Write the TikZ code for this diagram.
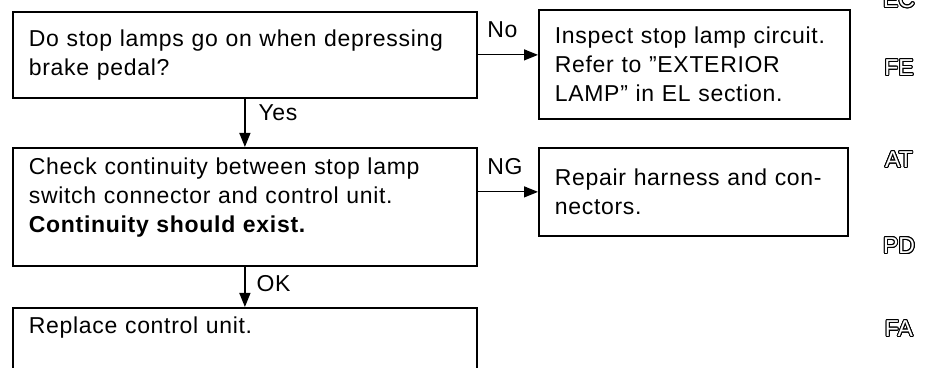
\documentclass[tikz,border=0pt]{standalone}
\usepackage{fontspec}
\setmainfont{Liberation Sans}
\newfontfamily\chartfont{Liberation Sans}[LetterSpace=3, Ligatures=TeX]
\usepackage[copies]{contour}
\usetikzlibrary{positioning, calc, arrows.meta}
\definecolor{Ink}{HTML}{000000}
\definecolor{Paper}{HTML}{FFFFFF}
\contourlength{0.5pt}
\newcommand{\tabmark}[1]{\contour{Ink}{\textcolor{Paper}{#1}}}
\tikzset{
    stepbox/.style={rectangle, draw=Ink, line width=0.9pt, anchor=north west, align=left, inner xsep=8pt, inner ysep=0pt, text=Ink, font=\chartfont\fontsize{11.5}{14.5}\selectfont},
    arrow/.style={-{Triangle[length=7pt, width=5.5pt]}, line width=0.6pt, color=Ink},
    answer/.style={anchor=base west, inner sep=0pt, text=Ink, font=\chartfont\fontsize{11.5}{14.5}\selectfont},
    tab/.style={inner sep=0pt, font=\fontsize{11.5}{12}\selectfont},
}

\begin{document}
\begin{tikzpicture}[x=0.5pt, y=-0.5pt]
    \useasboundingbox (0,0) rectangle (942,368);
    \clip (0,0) rectangle (942,368);

    % Steps
    \node[stepbox, text width=216pt, minimum height=43pt] (lamps) at (12,11)
        {Do stop lamps go on when depressing\\brake pedal?};
    \node[stepbox, text width=139.5pt, minimum height=54.5pt] (inspect) at (538,9)
        {Inspect stop lamp circuit.\\Refer to ''EXTERIOR\\LAMP'' in EL section.};
    \node[stepbox, text width=216pt, minimum height=59pt, text depth=41pt] (continuity) at (12,147)
        {Check continuity between stop lamp\\switch connector and control unit.\\\textbf{Continuity should exist.}};
    \node[stepbox, text width=138.5pt, minimum height=44pt] (repair) at (538,147)
        {Repair harness and con-\\nectors.};
    \node[stepbox, text width=216pt, inner ysep=4.5pt, text depth=40pt] (replace) at (12,307)
        {Replace control unit.};

    % Answers
    \draw[arrow] (lamps.east) -- node[answer, pos=0, xshift=4.5pt, yshift=8.5pt] {No} (lamps.east -| inspect.west);
    \draw[arrow] (lamps.south) -- node[answer, pos=0, xshift=6.5pt, yshift=-11pt] {Yes} (continuity.north);
    \draw[arrow] (continuity.east |- repair.west) -- node[answer, pos=0, xshift=4.5pt, yshift=8.5pt] {NG} (repair.west);
    \draw[arrow] (continuity.south) -- node[answer, pos=0, xshift=5.5pt, yshift=-12.5pt] {OK} (replace.north);

    % Section tabs
    \foreach \y/\t in {0/EC, 68/FE, 160/AT, 246/PD, 329/FA}
        \node[tab] (tab\t) at (899,\y) {\tabmark{\t}};
\end{tikzpicture}
\end{document}
